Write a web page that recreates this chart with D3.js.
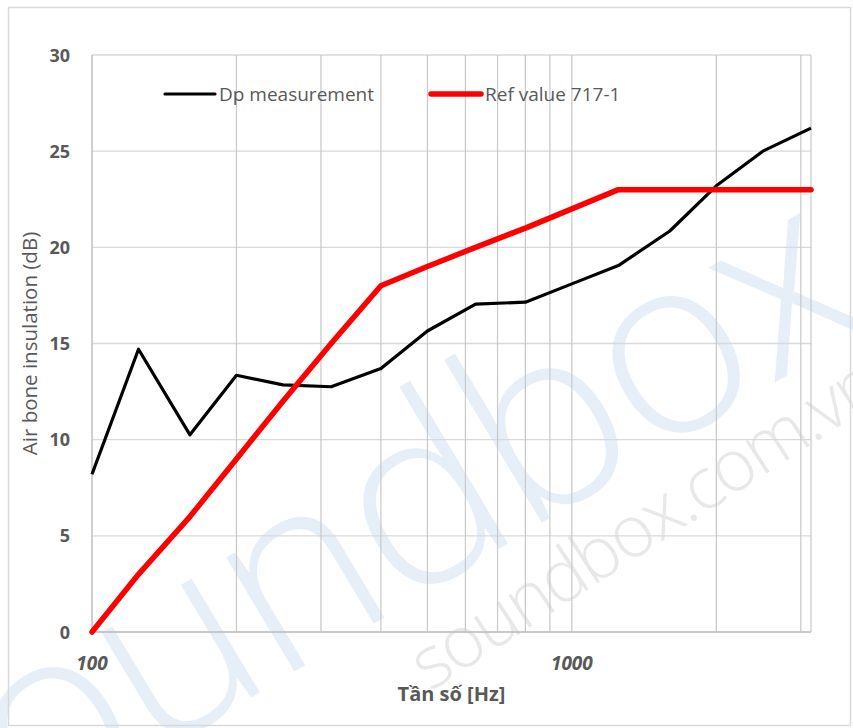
<!DOCTYPE html>
<html>
<head>
<meta charset="utf-8">
<script src="https://cdn.jsdelivr.net/npm/d3@7"></script>
<style>
  body { margin: 0; background: #fff; }
  svg { display: block; font-family: "Open Sans", "Liberation Sans", sans-serif; }
</style>
</head>
<body>
<svg id="chart" width="853" height="728"></svg>
<script>
// third-octave band centre frequencies (Hz)
const freqs = [100, 125, 160, 200, 250, 315, 400, 500, 630, 800, 1000, 1250, 1600, 2000, 2500, 3150];
const measured = [8.2, 14.7, 10.25, 13.35, 12.85, 12.75, 13.7, 15.65, 17.05, 17.15, 18.1, 19.05, 20.85, 23.2, 25.0, 26.2];
const reference = [0, 3, 6, 9, 12, 15, 18, 19, 20, 21, 22, 23, 23, 23, 23, 23];
const yTicks = [0, 5, 10, 15, 20, 25, 30];
const xLabels = [100, 1000];
const seriesNames = ['Dp measurement', 'Ref value 717-1'];

const width = 853;
const height = 728;
const margin = { top: 55, right: 42, bottom: 95, left: 92 };

const svg = d3.select('#chart');

// watermark behind the chart
const wm = svg.append('g').attr('class', 'watermark');
wm.append('text')
  .attr('transform', 'translate(405,605) rotate(-31)')
  .attr('text-anchor', 'middle')
  .attr('textLength', 1100)
  .attr('lengthAdjust', 'spacing')
  .attr('font-size', 250)
  .attr('font-weight', 300)
  .attr('fill', '#e6eef7')
  .text('soundbox');
wm.append('text')
  .attr('transform', 'translate(430,692) rotate(-33)')
  .attr('textLength', 545)
  .attr('lengthAdjust', 'spacing')
  .attr('font-size', 72)
  .attr('font-weight', 300)
  .attr('fill', '#e8e8e8')
  .text('soundbox.com.vn');

// outer frame
svg.append('rect')
  .attr('x', 8.5).attr('y', 7.5)
  .attr('width', 842).attr('height', 718)
  .attr('fill', 'none')
  .attr('stroke', '#d9d9d9')
  .attr('stroke-width', 1.5);

const x = d3.scaleLog()
  .domain([100, 3150])
  .range([margin.left, width - margin.right]);

const y = d3.scaleLinear()
  .domain([0, 30])
  .range([height - margin.bottom - 1, margin.top]);

const plot = svg.append('g');

// horizontal grid
plot.append('g')
  .selectAll('line')
  .data(yTicks)
  .enter()
  .append('line')
  .attr('x1', x(100)).attr('x2', x(3150))
  .attr('y1', d => y(d)).attr('y2', d => y(d))
  .attr('stroke', '#d9d9d9')
  .attr('stroke-width', 1.3);

// vertical log grid
const minor = x.ticks().filter(d => d > 100 && d < 3150);
plot.append('g')
  .selectAll('line')
  .data(minor)
  .enter()
  .append('line')
  .attr('x1', d => x(d)).attr('x2', d => x(d))
  .attr('y1', y(0)).attr('y2', y(30))
  .attr('stroke', '#c8c8c8')
  .attr('stroke-width', 1.2);

// right edge of plot
plot.append('line')
  .attr('x1', x(3150)).attr('x2', x(3150))
  .attr('y1', y(0)).attr('y2', y(30))
  .attr('stroke', '#c8c8c8')
  .attr('stroke-width', 1.2);

// axes lines
plot.append('line')
  .attr('x1', x(100)).attr('x2', x(100))
  .attr('y1', y(0)).attr('y2', y(30))
  .attr('stroke', '#bfbfbf').attr('stroke-width', 1.5);
plot.append('line')
  .attr('x1', x(100)).attr('x2', x(3150))
  .attr('y1', y(0)).attr('y2', y(0))
  .attr('stroke', '#bfbfbf').attr('stroke-width', 1.5);

// y tick labels
svg.append('g')
  .selectAll('text')
  .data(yTicks)
  .enter()
  .append('text')
  .attr('x', 70)
  .attr('y', d => y(d) + 6.5)
  .attr('text-anchor', 'end')
  .attr('font-size', 18)
  .attr('font-weight', 'bold')
  .attr('fill', '#595959')
  .text(d => d);

// x tick labels
svg.append('g')
  .selectAll('text')
  .data(xLabels)
  .enter()
  .append('text')
  .attr('x', d => x(d))
  .attr('y', 670)
  .attr('text-anchor', 'middle')
  .attr('font-size', 19)
  .attr('font-weight', 'bold')
  .attr('font-style', 'italic')
  .attr('fill', '#595959')
  .text(d => d);

// axis titles
svg.append('text')
  .attr('x', (x(100) + x(3150)) / 2)
  .attr('y', 701)
  .attr('text-anchor', 'middle')
  .attr('font-size', 20)
  .attr('font-weight', 'bold')
  .attr('fill', '#595959')
  .text('Tần số [Hz]');

svg.append('text')
  .attr('transform', `translate(37,${(y(0) + y(30)) / 2}) rotate(-90)`)
  .attr('text-anchor', 'middle')
  .attr('font-size', 20.5)
  .attr('fill', '#595959')
  .text('Air bone insulation (dB)');

// series
const line = d3.line()
  .x(d => x(d[0]))
  .y(d => y(d[1]));

plot.append('path')
  .datum(d3.zip(freqs, measured))
  .attr('d', line)
  .attr('fill', 'none')
  .attr('stroke', '#000')
  .attr('stroke-width', 3.2)
  .attr('stroke-linejoin', 'round');

plot.append('path')
  .datum(d3.zip(freqs, reference))
  .attr('d', line)
  .attr('fill', 'none')
  .attr('stroke', '#ff0000')
  .attr('stroke-width', 5.5)
  .attr('stroke-linejoin', 'round')
  .attr('stroke-linecap', 'round');

// legend
const legend = svg.append('g');
const legendItems = [
  { name: seriesNames[0], color: '#000', w: 3.2, x0: 165 },
  { name: seriesNames[1], color: '#ff0000', w: 5.5, x0: 431 }
];
legendItems.forEach(item => {
  legend.append('line')
    .attr('x1', item.x0).attr('x2', item.x0 + 50)
    .attr('y1', 94).attr('y2', 94)
    .attr('stroke', item.color)
    .attr('stroke-width', item.w)
    .attr('stroke-linecap', 'round');
  legend.append('text')
    .attr('x', item.x0 + 54)
    .attr('y', 101)
    .attr('font-size', 19)
    .attr('fill', '#595959')
    .text(item.name);
});
</script>
</body>
</html>
